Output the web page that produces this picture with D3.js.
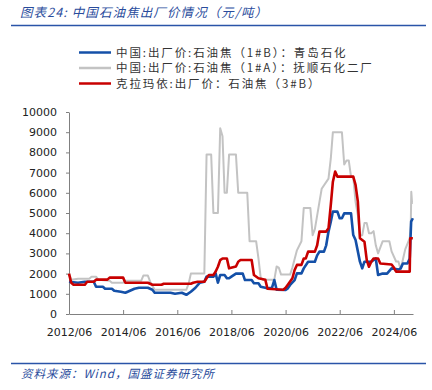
<!DOCTYPE html>
<html>
<head>
<meta charset="utf-8">
<script src="https://cdn.jsdelivr.net/npm/d3@7"></script>
<style>
  body { margin: 0; background: #fff; }
  svg { display: block; }
</style>
</head>
<body>
<div id="chart"></div>
<script>
// 中国石油焦出厂价 (元/吨), 读图估计
var seriesNames = [
    "中国:出厂价:石油焦（1#B）：青岛石化",
    "中国:出厂价:石油焦（1#A）：抚顺石化二厂",
    "克拉玛依:出厂价：石油焦（3#B）"
];
var seriesColors = ["#1450a8", "#c3c3c3", "#c80000"];

var qingdao = [
    ["2012-06", 1600], ["2012-10", 1550], ["2013-01", 1600], ["2013-05", 1600],
    ["2013-06", 1350], ["2013-09", 1350], ["2013-10", 1250], ["2014-01", 1250],
    ["2014-02", 1150], ["2014-05", 1100], ["2014-07", 1050], ["2014-09", 1150],
    ["2014-11", 1250], ["2015-01", 1300], ["2015-05", 1300], ["2015-07", 1200],
    ["2015-08", 1050], ["2016-03", 1050], ["2016-05", 1000], ["2016-08", 1050],
    ["2016-10", 950], ["2016-12", 1100], ["2017-02", 1300], ["2017-04", 1550],
    ["2017-06", 1600], ["2017-07", 1850], ["2017-10", 1850], ["2017-11", 2000],
    ["2017-12", 1550], ["2018-01", 1930], ["2018-03", 1930], ["2018-04", 1770],
    ["2018-05", 1770], ["2018-06", 1850], ["2018-08", 2000], ["2018-11", 2000],
    ["2018-12", 1680], ["2019-03", 1680], ["2019-04", 1520], ["2019-06", 1520],
    ["2019-07", 1350], ["2019-10", 1270], ["2019-12", 1300], ["2020-01", 1680],
    ["2020-02", 1200], ["2020-06", 1190], ["2020-07", 1270], ["2020-08", 1440],
    ["2020-10", 1680], ["2020-11", 2010], ["2021-01", 2010], ["2021-02", 2260],
    ["2021-04", 2590], ["2021-07", 2590], ["2021-08", 2900], ["2021-09", 3090],
    ["2021-11", 3090], ["2021-12", 3400], ["2022-01", 4080], ["2022-02", 4570],
    ["2022-03", 5070], ["2022-05", 5070], ["2022-06", 4740], ["2022-07", 4740],
    ["2022-08", 4980], ["2022-11", 4980], ["2022-12", 3910], ["2023-01", 3660],
    ["2023-02", 3100], ["2023-03", 2590], ["2023-04", 2260], ["2023-05", 2590],
    ["2023-08", 2590], ["2023-10", 2750], ["2023-11", 1930], ["2024-01", 2000],
    ["2024-03", 2000], ["2024-05", 2260], ["2024-08", 2200], ["2024-09", 2260],
    ["2024-10", 2500], ["2024-12", 2500], ["2025-01", 2750], ["2025-01-20", 4570],
    ["2025-02-12", 4740]
];

var fushun = [
    ["2012-06", 2000], ["2012-07", 1700], ["2012-10", 1750], ["2013-03", 1750],
    ["2013-04", 1850], ["2013-06", 1850], ["2013-07", 1700], ["2013-12", 1650],
    ["2014-01", 1550], ["2014-06", 1550], ["2014-07", 1650], ["2015-02", 1650],
    ["2015-03", 1900], ["2015-05", 1900], ["2015-06", 1600], ["2015-07", 1400],
    ["2015-08", 1200], ["2016-10", 1200], ["2016-11", 1500], ["2016-12", 2000],
    ["2017-06", 2000], ["2017-07", 7900], ["2017-09", 7900], ["2017-10", 5000],
    ["2017-12", 5000], ["2018-01", 9200], ["2018-02", 8800], ["2018-03", 6000],
    ["2018-04", 6000], ["2018-05", 7900], ["2018-08", 7900], ["2018-09", 6000],
    ["2019-01", 6000], ["2019-02", 3600], ["2019-05", 3600], ["2019-06", 2750],
    ["2019-07", 1800], ["2019-08", 1700], ["2020-01", 1700], ["2020-02", 2350],
    ["2020-03", 2300], ["2020-04", 1950], ["2020-08", 1950], ["2020-09", 2300],
    ["2020-11", 3150], ["2021-01", 3600], ["2021-02", 5250], ["2021-05", 5250],
    ["2021-06", 3900], ["2021-07", 4200], ["2021-09", 5550], ["2021-10", 6200],
    ["2022-01", 6700], ["2022-02", 7700], ["2022-03", 9000], ["2022-07", 9000],
    ["2022-08", 7400], ["2022-09", 7600], ["2022-10", 7600], ["2022-11", 6800],
    ["2022-12", 6800], ["2023-01", 5550], ["2023-02", 4900], ["2023-03", 3900],
    ["2023-04", 3900], ["2023-05", 4500], ["2023-06", 4500], ["2023-07", 4000],
    ["2023-08", 4000], ["2023-09", 4100], ["2023-10", 3400], ["2023-11", 3000],
    ["2024-01", 3600], ["2024-04", 3600], ["2024-05", 3100], ["2024-07", 2600],
    ["2024-08", 2600], ["2024-09", 2200], ["2024-10", 2700], ["2024-11", 3200],
    ["2025-01", 3750], ["2025-01-15", 4400], ["2025-01-22", 6050], ["2025-02-01", 5500],
    ["2025-02-12", 5500]
];

var karamay = [
    ["2012-06", 2000], ["2012-07", 1550], ["2012-08", 1450], ["2013-01", 1450],
    ["2013-02", 1600], ["2013-05", 1600], ["2013-06", 1700], ["2013-11", 1700],
    ["2013-12", 1800], ["2014-06", 1800], ["2014-07", 1550], ["2015-05", 1550],
    ["2015-07", 1450], ["2015-11", 1450], ["2015-12", 1500], ["2016-12", 1500],
    ["2017-01", 1550], ["2017-03", 1600], ["2017-06", 1600], ["2017-07", 1770],
    ["2017-08", 1930], ["2017-10", 1930], ["2017-11", 2100], ["2017-12", 2340],
    ["2018-01", 2670], ["2018-02", 2750], ["2018-04", 2750], ["2018-05", 2260],
    ["2018-08", 2350], ["2018-09", 2590], ["2018-10", 2670], ["2019-03", 2670],
    ["2019-04", 1930], ["2019-06", 1770], ["2019-09", 1700], ["2019-10", 1250],
    ["2020-05", 1200], ["2020-06", 1300], ["2020-07", 1450], ["2020-09", 1770],
    ["2020-10", 2180], ["2020-11", 2430], ["2021-01", 2430], ["2021-02", 2750],
    ["2021-03", 2750], ["2021-04", 3090], ["2021-07", 3090], ["2021-08", 3400],
    ["2021-09", 4080], ["2021-12", 4080], ["2022-01", 4240], ["2022-02", 5400],
    ["2022-03", 6550], ["2022-04", 7050], ["2022-05", 6800], ["2022-12", 6800],
    ["2023-01", 6390], ["2023-02", 5560], ["2023-03", 3750], ["2023-05", 3580],
    ["2023-06", 2670], ["2023-07", 2340], ["2023-08", 2590], ["2023-09", 2750],
    ["2023-11", 2750], ["2023-12", 2500], ["2024-05", 2450], ["2024-06", 2300],
    ["2024-07", 2100], ["2025-01", 2100], ["2025-01-08", 3750], ["2025-02-12", 3750]
];

var yTicks = [0, 1000, 2000, 3000, 4000, 5000, 6000, 7000, 8000, 9000, 10000];
var xTickLabels = ["2012/06", "2014/06", "2016/06", "2018/06", "2020/06", "2022/06", "2024/06"];

function parseDate(s) {
    var p = s.split("-");
    return new Date(+p[0], +p[1] - 1, p[2] ? +p[2] : 1);
}

var W = 432, H = 390;
var margin = {top: 112, right: 19, bottom: 76, left: 69},
    width = W - margin.left - margin.right,
    height = H - margin.top - margin.bottom;

var svg = d3.select("#chart").append("svg")
    .attr("width", W)
    .attr("height", H);

var blueText = "#2a4c9c";
var cjk = "'Noto Sans CJK SC', 'Noto Sans', sans-serif";

// title + rule
svg.append("text")
    .attr("x", 20).attr("y", 17)
    .attr("font-family", cjk)
    .attr("font-size", 12.5)
    .attr("font-style", "italic")
    .attr("letter-spacing", 1.1)
    .attr("fill", blueText)
    .text("图表24:  中国石油焦出厂价情况（元/吨）");
svg.append("line")
    .attr("x1", 11).attr("x2", 426)
    .attr("y1", 25.5).attr("y2", 25.5)
    .attr("stroke", "#2a54a8").attr("stroke-width", 1.6);

// footer
svg.append("line")
    .attr("x1", 11).attr("x2", 426)
    .attr("y1", 363.5).attr("y2", 363.5)
    .attr("stroke", "#2a54a8").attr("stroke-width", 1.6);
svg.append("text")
    .attr("x", 21).attr("y", 378)
    .attr("font-family", cjk)
    .attr("font-size", 11.5)
    .attr("font-style", "italic")
    .attr("letter-spacing", 1)
    .attr("fill", blueText)
    .text("资料来源：Wind，国盛证券研究所");

// legend
var legendOrder = [0, 1, 2];
var legendY = [52.5, 68, 83.5];
var legend = svg.append("g");
legendOrder.forEach(function(i, k) {
    legend.append("line")
        .attr("x1", 79).attr("x2", 111)
        .attr("y1", legendY[k]).attr("y2", legendY[k])
        .attr("stroke", seriesColors[i]).attr("stroke-width", 2.5);
    legend.append("text")
        .attr("x", 116).attr("y", legendY[k] + 4)
        .attr("font-family", cjk)
        .attr("font-size", 11.5)
        .attr("letter-spacing", 1.9)
        .attr("fill", "#333")
        .text(seriesNames[i]);
});

var g = svg.append("g")
    .attr("transform", "translate(" + margin.left + "," + margin.top + ")");

var x = d3.scaleTime()
    .domain([parseDate("2012-06"), parseDate("2025-02-14")])
    .range([0, width]);
var y = d3.scaleLinear()
    .domain([0, 10000])
    .range([height, 0]);

var xTickDates = xTickLabels.map(function(s) { return parseDate(s.replace("/", "-")); });

var xAxis = d3.axisBottom(x)
    .tickValues(xTickDates)
    .tickSizeInner(-4).tickSizeOuter(0)
    .tickPadding(14)
    .tickFormat(function(d, i) { return xTickLabels[i]; });
var yAxis = d3.axisLeft(y)
    .tickValues(yTicks)
    .tickSizeInner(3).tickSizeOuter(0)
    .tickPadding(9)
    .tickFormat(d3.format("d"));

var xg = g.append("g")
    .attr("transform", "translate(0," + height + ")")
    .call(xAxis);
var yg = g.append("g").call(yAxis);

[xg, yg].forEach(function(a) {
    a.selectAll("path, line").attr("stroke", "#808080").attr("stroke-width", 1);
    a.selectAll("text")
        .attr("font-family", "'DejaVu Sans', Verdana, sans-serif")
        .attr("font-size", 11)
        .attr("fill", "#222");
});

var line = d3.line()
    .x(function(d) { return x(parseDate(d[0])); })
    .y(function(d) { return y(d[1]); });

// draw grey first, then blue, red on top
var drawOrder = [[fushun, 1, 2], [qingdao, 0, 2.6], [karamay, 2, 2.6]];
drawOrder.forEach(function(s) {
    g.append("path")
        .datum(s[0])
        .attr("fill", "none")
        .attr("stroke", seriesColors[s[1]])
        .attr("stroke-width", s[2])
        .attr("stroke-linejoin", "round")
        .attr("d", line);
});
</script>
</body>
</html>
